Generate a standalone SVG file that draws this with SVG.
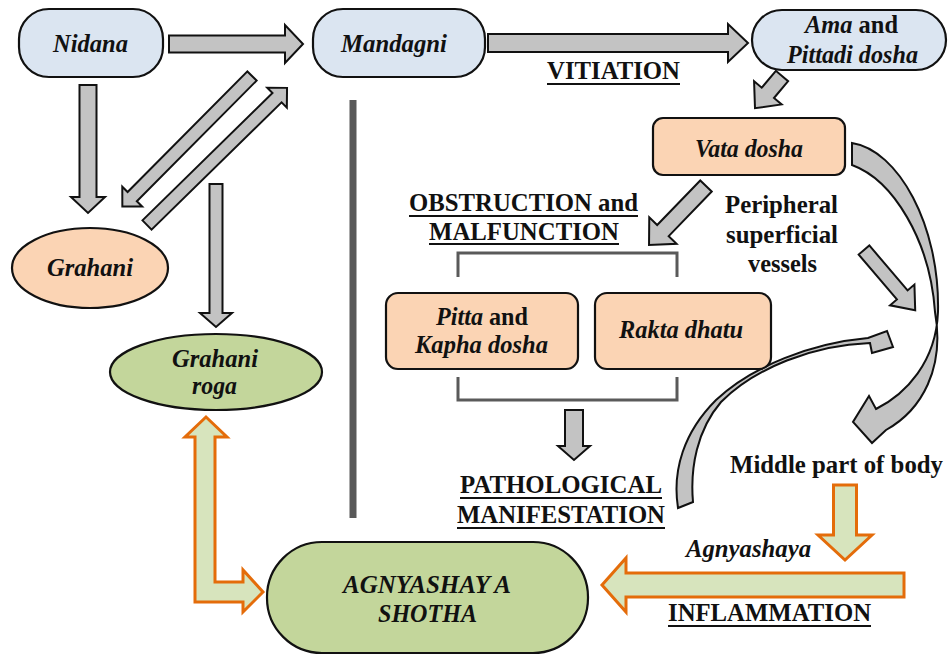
<svg xmlns="http://www.w3.org/2000/svg" width="950" height="656" viewBox="0 0 950 656">
<style>
.bg{fill:#ffffff}
.blue{fill:#dbe5f1;stroke:#111;stroke-width:2.2}
.peach{fill:#fbd4b4;stroke:#111;stroke-width:2.2}
.green{fill:#c3d69b;stroke:#111;stroke-width:2.2}
.ga{fill:#c3c3c3;stroke:#111;stroke-width:2;stroke-linejoin:miter}
.oa{fill:#d7e4bd;stroke:#e46c0a;stroke-width:3;stroke-linejoin:miter}
.br{fill:none;stroke:#5a5a5a;stroke-width:3}
.t{font-family:"Liberation Serif","Times New Roman",serif;font-size:25px;fill:#111}
.bi{font-weight:bold;font-style:italic}
.b{font-weight:bold}
.i{font-style:italic}
.ul{stroke:#111;stroke-width:2}
</style>
<rect class="bg" x="0" y="0" width="950" height="656"/>

<g id="connectors">
  <!-- gray straight arrows -->
  <polygon class="ga" transform="translate(169,44)" points="0,-8.5 116,-8.5 116,-19 134,0 116,19 116,8.5 0,8.5"/>
  <polygon class="ga" transform="translate(488,43)" points="0,-9 240,-9 240,-19 260,0 240,19 240,9 0,9"/>
  <polygon class="ga" transform="translate(782,76) rotate(130)" points="0,-8 22,-8 22,-18 42,0 22,18 22,8 0,8"/>
  <polygon class="ga" transform="translate(706,186) rotate(134)" points="0,-8 62,-8 62,-19 82,0 62,19 62,8 0,8"/>
  <polygon class="ga" transform="translate(864,250) rotate(49.6)" points="0,-7 59,-7 59,-16 79,0 59,16 59,7 0,7"/>
  <polygon class="ga" transform="translate(88,85) rotate(90)" points="0,-8.5 112,-8.5 112,-17 128,0 112,17 112,8.5 0,8.5"/>
  <polygon class="ga" transform="translate(252,76) rotate(134.8)" points="0,-6.5 170,-6.5 170,-14 184,0 170,14 170,6.5 0,6.5"/>
  <polygon class="ga" transform="translate(147,225) rotate(-44.4)" points="0,-6.5 182,-6.5 182,-14 196,0 182,14 182,6.5 0,6.5"/>
  <polygon class="ga" transform="translate(216,184) rotate(90)" points="0,-6.5 129,-6.5 129,-16 143,0 129,16 129,6.5 0,6.5"/>
  <polygon class="ga" transform="translate(574,410) rotate(90)" points="0,-9 36,-9 36,-16 50,0 36,16 36,9 0,9"/>
  <!-- curved arrows -->
  <path class="ga" d="M852,143 C898,150 940,225 938,312 C936,362 906,394 876,409 L869,396 L853,422 L872,443 L886,430 C922,410 945,368 935,312 C930,240 893,180 852,165 Z"/>
  <path class="ga" d="M678,508 C672,470 684,432 716,400 C752,366 812,343 868,338 L887,331 L893,347 L872,353 L870,343 C813,345 755,368 721,402 C697,430 690,468 693,502 Z"/>
  <!-- orange arrows -->
  <polygon class="oa" transform="translate(845,485) rotate(90)" points="0,-11.5 50,-11.5 50,-27 75,0 50,27 50,11.5 0,11.5"/>
  <polygon class="oa" transform="translate(904,585) rotate(180)" points="0,-12 278,-12 278,-27 302,0 278,27 278,12 0,12"/>
  <polygon class="oa" points="206,417 227,437 215,437 215,582 243,582 243,570 263,592 243,612 243,602 195,602 195,437 185,437"/>
  <!-- bracket -->
  <path class="br" d="M458,277 V253 H677 V277"/>
  <path class="br" d="M458,377 V400 H677 V377"/>
  <!-- divider -->
  <line x1="353" y1="100" x2="353" y2="518" stroke="#595959" stroke-width="7"/>
</g>

<g id="nidana">
  <rect class="blue" x="19" y="9" width="144" height="68" rx="30"/>
  <text class="t bi" x="53" y="52" textLength="75" lengthAdjust="spacingAndGlyphs">Nidana</text>
</g>
<g id="mandagni">
  <rect class="blue" x="313" y="9" width="172" height="68" rx="30"/>
  <text class="t bi" x="341" y="52" textLength="106" lengthAdjust="spacingAndGlyphs">Mandagni</text>
</g>
<g id="ama">
  <rect class="blue" x="752" y="10" width="194" height="60" rx="30"/>
  <text class="t b" x="805" y="33" textLength="93" lengthAdjust="spacingAndGlyphs"><tspan class="i">Ama</tspan> and</text>
  <text class="t bi" x="787" y="63" textLength="131" lengthAdjust="spacingAndGlyphs">Pittadi dosha</text>
</g>
<g id="vitiation">
  <text class="t b" x="547" y="79" textLength="133" lengthAdjust="spacingAndGlyphs">VITIATION</text>
  <line class="ul" x1="547" y1="84" x2="680" y2="84"/>
</g>
<g id="vata">
  <rect class="peach" x="653" y="118" width="192" height="57" rx="10"/>
  <text class="t bi" x="695" y="157" textLength="108" lengthAdjust="spacingAndGlyphs">Vata dosha</text>
</g>
<g id="obstruction">
  <text class="t b" x="409" y="211" textLength="229" lengthAdjust="spacingAndGlyphs">OBSTRUCTION and</text>
  <line class="ul" x1="409" y1="216" x2="638" y2="216"/>
  <text class="t b" x="429" y="240" textLength="190" lengthAdjust="spacingAndGlyphs">MALFUNCTION</text>
  <line class="ul" x1="429" y1="244" x2="619" y2="244"/>
</g>
<g id="peripheral">
  <text class="t b" x="725" y="213" textLength="113" lengthAdjust="spacingAndGlyphs">Peripheral</text>
  <text class="t b" x="726" y="243" textLength="112" lengthAdjust="spacingAndGlyphs">superficial</text>
  <text class="t b" x="748" y="272" textLength="69" lengthAdjust="spacingAndGlyphs">vessels</text>
</g>
<g id="grahani">
  <ellipse class="peach" cx="90" cy="268" rx="78" ry="40"/>
  <text class="t bi" x="47" y="276" textLength="86" lengthAdjust="spacingAndGlyphs">Grahani</text>
</g>
<g id="pitta">
  <rect class="peach" x="386" y="293" width="192" height="76" rx="12"/>
  <text class="t b" x="436" y="325" textLength="92" lengthAdjust="spacingAndGlyphs"><tspan class="i">Pitta</tspan> and</text>
  <text class="t bi" x="415" y="353" textLength="133" lengthAdjust="spacingAndGlyphs">Kapha dosha</text>
</g>
<g id="rakta">
  <rect class="peach" x="595" y="293" width="176" height="76" rx="12"/>
  <text class="t bi" x="619" y="338" textLength="124" lengthAdjust="spacingAndGlyphs">Rakta dhatu</text>
</g>
<g id="grahani-roga">
  <ellipse class="green" cx="216" cy="372" rx="106" ry="38"/>
  <text class="t bi" x="172" y="367" textLength="86" lengthAdjust="spacingAndGlyphs">Grahani</text>
  <text class="t bi" x="192" y="394" textLength="45" lengthAdjust="spacingAndGlyphs">roga</text>
</g>
<g id="pathological">
  <text class="t b" x="460" y="493" textLength="202" lengthAdjust="spacingAndGlyphs">PATHOLOGICAL</text>
  <line class="ul" x1="460" y1="498" x2="662" y2="498"/>
  <text class="t b" x="457" y="523" textLength="208" lengthAdjust="spacingAndGlyphs">MANIFESTATION</text>
  <line class="ul" x1="457" y1="528" x2="665" y2="528"/>
</g>
<g id="middle">
  <text class="t b" x="730" y="473" textLength="213" lengthAdjust="spacingAndGlyphs">Middle part of body</text>
</g>
<g id="agnyashaya-label">
  <text class="t bi" x="686" y="557" textLength="125" lengthAdjust="spacingAndGlyphs">Agnyashaya</text>
</g>
<g id="inflammation">
  <text class="t b" x="668" y="621" textLength="203" lengthAdjust="spacingAndGlyphs">INFLAMMATION</text>
  <line class="ul" x1="668" y1="626" x2="871" y2="626"/>
</g>
<g id="agnyashaya-shotha">
  <rect class="green" x="267" y="542" width="321" height="111" rx="55"/>
  <text class="t bi" x="343" y="593" textLength="168" lengthAdjust="spacingAndGlyphs">AGNYASHAY A</text>
  <text class="t bi" x="378" y="622" textLength="99" lengthAdjust="spacingAndGlyphs">SHOTHA</text>
</g>
</svg>
